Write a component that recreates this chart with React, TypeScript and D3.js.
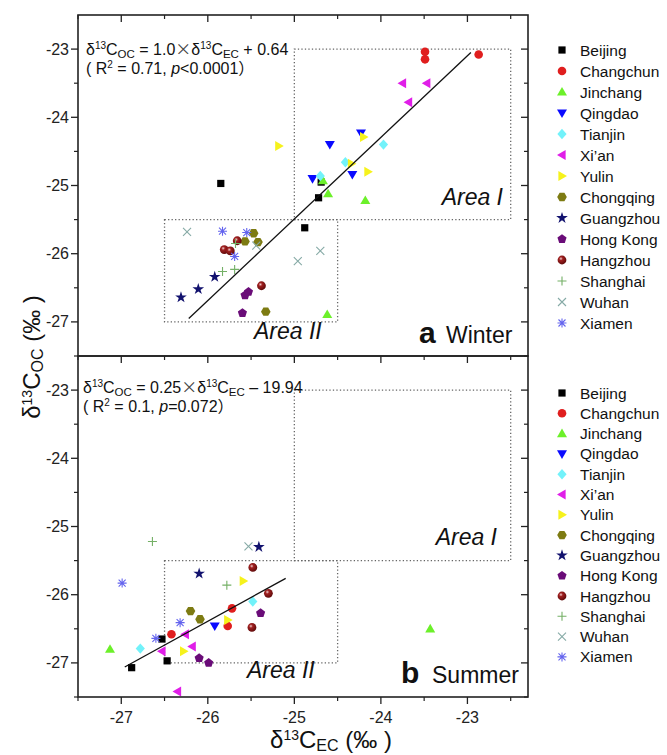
import React from "react";
import * as d3 from "d3";

const cityNames = ["Beijing", "Changchun", "Jinchang", "Qingdao", "Tianjin", "Xi\u2019an", "Yulin", "Chongqing", "Guangzhou", "Hong Kong", "Hangzhou", "Shanghai", "Wuhan", "Xiamen"];

type P = [number, number];
// Winter (panel a)
const winterBeijing: P[] = [[-25.85, -24.97], [-24.69, -24.95], [-24.72, -25.18], [-24.88, -25.62]];
const winterChangchun: P[] = [[-23.49, -23.04], [-23.49, -23.15], [-22.87, -23.08]];
const winterJinchang: P[] = [[-24.67, -24.93], [-24.61, -25.12], [-24.18, -25.22], [-24.62, -26.89]];
const winterQingdao: P[] = [[-24.59, -24.40], [-24.23, -24.23], [-24.33, -24.84], [-24.79, -24.90]];
const winterTianjin: P[] = [[-23.97, -24.40], [-24.41, -24.66], [-24.70, -24.86]];
const winterXian: P[] = [[-23.75, -23.50], [-23.47, -23.50], [-23.68, -23.78]];
const winterYulin: P[] = [[-25.18, -24.42], [-24.20, -24.29], [-24.34, -24.68], [-24.15, -24.80]];
const winterChongqing: P[] = [[-25.47, -25.70], [-25.57, -25.82], [-25.42, -25.83], [-25.33, -26.85]];
const winterGuangzhou: P[] = [[-26.31, -26.64], [-26.11, -26.52], [-25.92, -26.34]];
const winterHongKong: P[] = [[-25.53, -26.56], [-25.57, -26.61], [-25.60, -26.87]];
const winterHangzhou: P[] = [[-25.66, -25.81], [-25.81, -25.94], [-25.74, -25.96], [-25.38, -26.47]];
const winterShanghai: P[] = [[-25.83, -26.26], [-25.69, -26.23], [-25.68, -25.85]];
const winterWuhan: P[] = [[-26.24, -25.68], [-24.96, -26.11], [-24.70, -25.96], [-25.44, -25.88]];
const winterXiamen: P[] = [[-25.83, -25.67], [-25.55, -25.69], [-25.69, -26.04]];

// Summer (panel b)
const summerBeijing: P[] = [[-26.53, -26.65], [-26.47, -26.97], [-26.88, -27.07]];
const summerChangchun: P[] = [[-25.72, -26.20], [-25.77, -26.46], [-26.42, -26.58]];
const summerJinchang: P[] = [[-27.13, -26.80], [-23.43, -26.50]];
const summerQingdao: P[] = [[-25.92, -26.46]];
const summerTianjin: P[] = [[-25.48, -26.10], [-26.78, -26.79]];
const summerXian: P[] = [[-26.26, -26.58], [-26.53, -26.83], [-26.18, -26.76], [-26.35, -27.42]];
const summerYulin: P[] = [[-25.59, -25.80], [-25.77, -26.37], [-26.28, -26.83]];
const summerChongqing: P[] = [[-26.20, -26.24], [-26.09, -26.36]];
const summerGuangzhou: P[] = [[-25.41, -25.30], [-26.10, -25.69]];
const summerHongKong: P[] = [[-25.39, -26.27], [-26.10, -26.93], [-25.99, -27.00]];
const summerHangzhou: P[] = [[-25.48, -25.60], [-25.30, -25.98], [-25.49, -26.48]];
const summerShanghai: P[] = [[-26.64, -25.22], [-25.78, -25.86]];
const summerWuhan: P[] = [[-25.53, -25.29]];
const summerXiamen: P[] = [[-26.99, -25.83], [-26.32, -26.41], [-26.60, -26.64]];

const winterData = [winterBeijing, winterChangchun, winterJinchang, winterQingdao, winterTianjin, winterXian, winterYulin, winterChongqing, winterGuangzhou, winterHongKong, winterHangzhou, winterShanghai, winterWuhan, winterXiamen];
const summerData = [summerBeijing, summerChangchun, summerJinchang, summerQingdao, summerTianjin, summerXian, summerYulin, summerChongqing, summerGuangzhou, summerHongKong, summerHangzhou, summerShanghai, summerWuhan, summerXiamen];

const xTicks = [-27, -26, -25, -24, -23];
const xMinorTicks = [-27.5, -26.5, -25.5, -24.5, -23.5, -22.5];
const yTicks = [-27, -26, -25, -24, -23];
const yMinorTicks = [-27.5, -26.5, -25.5, -24.5, -23.5];
const xDomain = [-27.5, -22.3];
const yDomain = [-27.5, -22.5];

const areaIX = [-25, -22.5];
const areaIY = [-25.5, -23];
const areaIIX = [-26.5, -24.5];
const areaIIY = [-27, -25.5];

const winterFitX = [-26.22, -22.96];
const winterFitY = [-26.95, -23.05];
const summerFitX = [-26.96, -25.1];
const summerFitY = [-27.06, -25.76];

// styles
const markerTypes = ["square", "circle", "triUp", "triDown", "diamond", "triLeft", "triRight", "hexagon", "star", "pentagon", "sphere", "plus", "times", "asterisk"];
const markerColors = ["#000000", "#e01e1e", "#6cf02a", "#0a0aff", "#72f2fa", "#e01ee8", "#f6f21c", "#7d7b12", "#12126e", "#6a0c78", "#7a1212", "#74b066", "#86aaa6", "#6464ee"];

const FONT = "'Liberation Sans', Arial, Helvetica, sans-serif";
const CJK = "'Noto Sans CJK SC', sans-serif";

const L = 78, R = 528;
const topA = 15, topB = 356, H = 341;

const x = d3.scaleLinear().domain(xDomain).range([L, R]);

function poly(n: number, r: number, rot: number) {
  const pts: string[] = [];
  for (let i = 0; i < n; i++) {
    const a = rot + (i * 2 * Math.PI) / n;
    pts.push(`${(r * Math.cos(a)).toFixed(2)},${(r * Math.sin(a)).toFixed(2)}`);
  }
  return "M" + pts.join("L") + "Z";
}

function Marker({ type, color, cx, cy }: { type: string; color: string; cx: number; cy: number }) {
  const t = `translate(${cx},${cy})`;
  switch (type) {
    case "square":
      return <rect x={cx - 3.6} y={cy - 3.6} width={7.2} height={7.2} fill={color} />;
    case "circle":
      return <circle cx={cx} cy={cy} r={4.3} fill={color} />;
    case "sphere":
      return <circle cx={cx} cy={cy} r={4.4} fill="url(#sphereGrad)" />;
    case "triUp":
      return <path transform={t} d="M0,-5L5,3.6L-5,3.6Z" fill={color} />;
    case "triDown":
      return <path transform={t} d="M0,5L5,-3.6L-5,-3.6Z" fill={color} />;
    case "triLeft":
      return <path transform={t} d="M-5,0L3.6,-5L3.6,5Z" fill={color} />;
    case "triRight":
      return <path transform={t} d="M5,0L-3.6,-5L-3.6,5Z" fill={color} />;
    case "diamond":
      return <path transform={t} d="M0,-5.2L4.6,0L0,5.2L-4.6,0Z" fill={color} />;
    case "hexagon":
      return <path transform={t} d={poly(6, 4.8, 0)} fill={color} />;
    case "pentagon":
      return <path transform={t} d={poly(5, 4.8, -Math.PI / 2)} fill={color} />;
    case "star":
      return <path transform={t} d={d3.symbol(d3.symbolStar, 42)() || ""} fill={color} />;
    case "plus":
      return <path transform={t} d="M-4.5,0H4.5M0,-4.5V4.5" stroke={color} strokeWidth={1.1} fill="none" />;
    case "times":
      return <path transform={t} d="M-4,-4L4,4M-4,4L4,-4" stroke={color} strokeWidth={1.1} fill="none" />;
    case "asterisk":
      return <path transform={t} d="M-4.5,0H4.5M0,-4.5V4.5M-3.5,-3.5L3.5,3.5M-3.5,3.5L3.5,-3.5" stroke={color} strokeWidth={1.1} fill="none" />;
  }
  return null;
}

function Panel({ top, data, fitX, fitY, eq, label, season, areaILabelY, areaILabelX, areaIILabelY, areaIILabelX }: any) {
  const y = d3.scaleLinear().domain(yDomain).range([top + H, top]);
  const line = d3.line<number>().x((d: number, i: number) => x(fitX[i])).y((d: number, i: number) => y(fitY[i]));
  const box = (bx: number[], by: number[]) => (
    <rect x={x(bx[0])} y={y(by[1])} width={x(bx[1]) - x(bx[0])} height={y(by[0]) - y(by[1])} fill="none" stroke="#666" strokeWidth={1.3} strokeDasharray="1.3 2.2" />
  );
  return (
    <g>
      {box(areaIX, areaIY)}
      {box(areaIIX, areaIIY)}
      {eq}
      {data.map((pts: P[], ci: number) =>
        pts.map((p: P, k: number) => <Marker key={ci + "-" + k} type={markerTypes[ci]} color={markerColors[ci]} cx={x(p[0])} cy={y(p[1])} />)
      )}
      <path d={line(fitX) || ""} stroke="#111" strokeWidth={1.3} fill="none" />
      <text x={areaILabelX} y={areaILabelY} fontFamily={FONT} fontSize={23} fontStyle="italic" textAnchor="end" fill="#111">Area I</text>
      <text x={areaIILabelX} y={areaIILabelY} fontFamily={FONT} fontSize={23} fontStyle="italic" fill="#111">Area II</text>
      <text x={label.x} y={top + label.dy} fontFamily={FONT} fontSize={30} fontWeight="bold" fill="#111">{label.t}</text>
      <text x={season.x} y={top + season.dy} fontFamily={FONT} fontSize={23} fill="#111">{season.t}</text>
      <rect x={L} y={top} width={R - L} height={H} fill="none" stroke="#222" strokeWidth={1.6} />
      {yTicks.map((v) => (
        <g key={"yl" + v}>
          <line x1={L - 7} x2={L} y1={y(v)} y2={y(v)} stroke="#222" strokeWidth={1.3} />
          <text x={L - 9} y={y(v) + 5.5} fontFamily={FONT} fontSize={16} textAnchor="end" fill="#222">{v}</text>
          <line x1={R - 7} x2={R} y1={y(v)} y2={y(v)} stroke="#222" strokeWidth={1.3} />
        </g>
      ))}
      {yMinorTicks.map((v) => (
        <g key={"ym" + v}>
          <line x1={L - 4} x2={L} y1={y(v)} y2={y(v)} stroke="#222" strokeWidth={1.2} />
          <line x1={R - 4} x2={R} y1={y(v)} y2={y(v)} stroke="#222" strokeWidth={1.2} />
        </g>
      ))}
      {xTicks.map((v) => (
        <line key={"xt" + v} x1={x(v)} x2={x(v)} y1={top} y2={top + 7} stroke="#222" strokeWidth={1.3} />
      ))}
      {xMinorTicks.map((v) => (
        <line key={"xtm" + v} x1={x(v)} x2={x(v)} y1={top} y2={top + 4} stroke="#222" strokeWidth={1.2} />
      ))}
    </g>
  );
}

function Legend({ y0, dy }: { y0: number; dy: number }) {
  return (
    <g>
      {cityNames.map((c, i) => (
        <g key={c}>
          <Marker type={markerTypes[i]} color={markerColors[i]} cx={562} cy={y0 + i * dy} />
          <text x={580} y={y0 + i * dy + 5.5} fontFamily={FONT} fontSize={15.5} fill="#111">{c}</text>
        </g>
      ))}
    </g>
  );
}

function Eq({ x0, y0, a, b, sign, stat }: any) {
  return (
    <g fontFamily={FONT} fill="#111">
      <text x={x0} y={y0} fontSize={16}>
        δ<tspan fontSize={10} dy={-6}>13</tspan>
        <tspan dy={6}>C</tspan>
        <tspan fontSize={11.5} dy={3}>OC</tspan>
        <tspan dy={-3}>{` = ${a}`}</tspan>
        <tspan fontFamily={CJK} fill="#444">×</tspan>
        <tspan>δ</tspan>
        <tspan fontSize={10} dy={-6}>13</tspan>
        <tspan dy={6}>C</tspan>
        <tspan fontSize={11.5} dy={3}>EC</tspan>
        <tspan dy={-3}>{` ${sign} ${b}`}</tspan>
      </text>
      <text x={x0} y={y0 + 18.5} fontSize={16}>
        {"( R"}
        <tspan fontSize={10} dy={-6}>2</tspan>
        <tspan dy={6}>{" = " + stat[0] + ", "}</tspan>
        <tspan fontStyle="italic">p</tspan>
        <tspan>{stat[1]}</tspan>
        <tspan fontFamily={CJK}>）</tspan>
      </text>
    </g>
  );
}

export default function App() {
  return (
    <svg width={667} height={755} style={{ position: "absolute", left: 0, top: 0, background: "#fff" }}>
      <defs>
        <radialGradient id="sphereGrad" cx="0.38" cy="0.35" r="0.7">
          <stop offset="0" stopColor="#f0d0d0" />
          <stop offset="0.3" stopColor="#a02020" />
          <stop offset="1" stopColor="#5a0808" />
        </radialGradient>
      </defs>
      <rect x={0} y={0} width={667} height={755} fill="#fff" />
      <Panel
        top={topA}
        data={winterData}
        fitX={winterFitX}
        fitY={winterFitY}
        eq={<Eq x0={86} y0={55} a="1.0" b="0.64" sign="+" stat={["0.71", "<0.0001"]} />}
        label={{ x: 419, dy: 328, t: "a" }}
        season={{ x: 446, dy: 328, t: "Winter" }}
        areaILabelX={503}
        areaILabelY={205}
        areaIILabelX={254}
        areaIILabelY={339}
      />
      <Panel
        top={topB}
        data={summerData}
        fitX={summerFitX}
        fitY={summerFitY}
        eq={<Eq x0={83} y0={393} a="0.25" b="19.94" sign="–" stat={["0.1", "=0.072"]} />}
        label={{ x: 401, dy: 327, t: "b" }}
        season={{ x: 432, dy: 327, t: "Summer" }}
        areaILabelX={497}
        areaILabelY={545}
        areaIILabelX={247}
        areaIILabelY={678}
      />
      {xTicks.map((v) => (
        <g key={"bx" + v}>
          <line x1={x(v)} x2={x(v)} y1={topB + H} y2={topB + H + 7} stroke="#222" strokeWidth={1.3} />
          <text x={x(v)} y={723} fontFamily={FONT} fontSize={16} textAnchor="middle" fill="#222">{v}</text>
        </g>
      ))}
      {xMinorTicks.map((v) => (
        <line key={"bxm" + v} x1={x(v)} x2={x(v)} y1={topB + H} y2={topB + H + 4} stroke="#222" strokeWidth={1.2} />
      ))}
      <Legend y0={50} dy={21} />
      <Legend y0={393} dy={20.3} />
      <text x={331} y={748} textAnchor="middle" fontFamily={FONT} fontSize={24} fill="#111">
        δ<tspan fontSize={14} dy={-8}>13</tspan>
        <tspan dy={8}>C</tspan>
        <tspan fontSize={16} dy={3}>EC</tspan>
        <tspan dy={-3}>{" (‰ )"}</tspan>
      </text>
      <text transform="translate(40,357)rotate(-90)" textAnchor="middle" fontFamily={FONT} fontSize={24} fill="#111">
        δ<tspan fontSize={14} dy={-8}>13</tspan>
        <tspan dy={8}>C</tspan>
        <tspan fontSize={16} dy={3}>OC</tspan>
        <tspan dy={-3}>{" (‰ )"}</tspan>
      </text>
    </svg>
  );
}
